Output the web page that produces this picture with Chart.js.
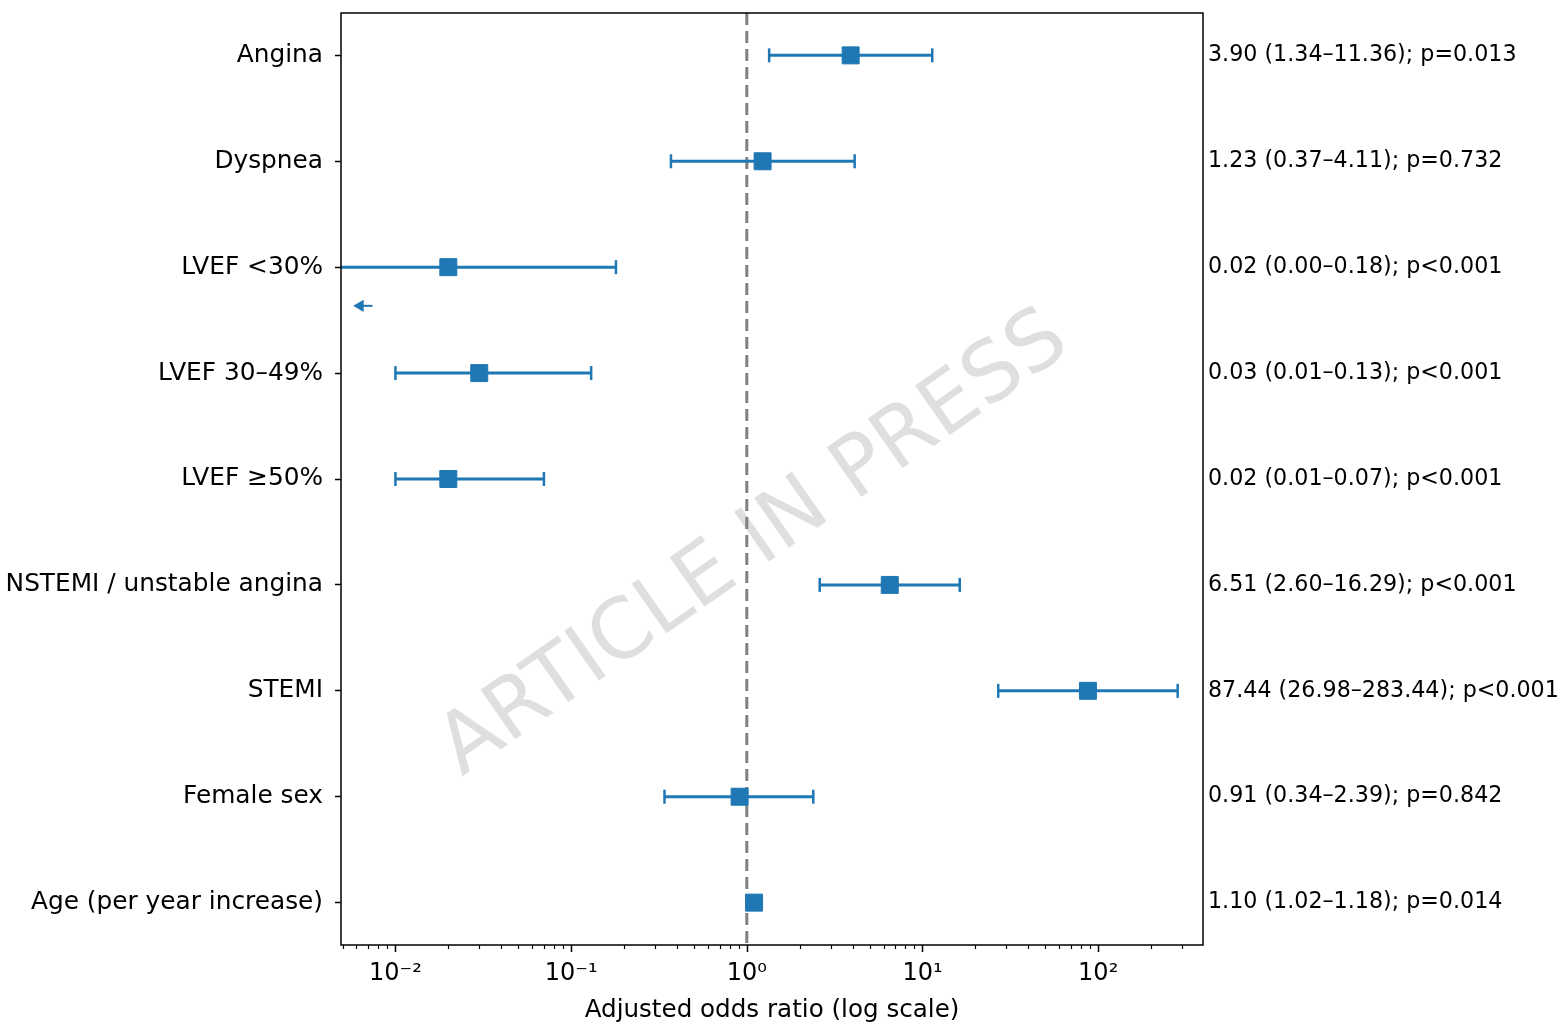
<!DOCTYPE html>
<html>
<head>
<meta charset="utf-8">
<script src="https://cdn.jsdelivr.net/npm/chart.js@4/dist/chart.umd.min.js"></script>
<style>
  body { margin: 0; background: #fff; }
  canvas { display: block; }
</style>
</head>
<body>
<canvas id="chart" width="1565" height="1028"></canvas>
<script>
// rows, top to bottom
const labels = ["Angina", "Dyspnea", "LVEF <30%", "LVEF 30–49%", "LVEF ≥50%",
  "NSTEMI / unstable angina", "STEMI", "Female sex", "Age (per year increase)"];
const oddsRatio = [3.90, 1.23, 0.02, 0.03, 0.02, 6.51, 87.44, 0.91, 1.10];
const ciLow = [1.34, 0.37, 0.001, 0.01, 0.01, 2.60, 26.98, 0.34, 1.02]; // 0.00 shown, below axis
const ciHigh = [11.36, 4.11, 0.18, 0.13, 0.07, 16.29, 283.44, 2.39, 1.18];
const statTexts = [
  "3.90 (1.34–11.36); p=0.013",
  "1.23 (0.37–4.11); p=0.732",
  "0.02 (0.00–0.18); p<0.001",
  "0.03 (0.01–0.13); p<0.001",
  "0.02 (0.01–0.07); p<0.001",
  "6.51 (2.60–16.29); p<0.001",
  "87.44 (26.98–283.44); p<0.001",
  "0.91 (0.34–2.39); p=0.842",
  "1.10 (1.02–1.18); p=0.014"
];
const xTicks = [0.01, 0.1, 1, 10, 100];
const xTickLabels = ["10⁻²", "10⁻¹", "10⁰", "10¹", "10²"];
const xMin = 0.0049, xMax = 395;
// little arrow under LVEF <30% (CI runs off the axis)
const arrowX = [0.0074, 0.0063];
const arrowY = 2.365;

const blue = "#1f77b4";
const font = "DejaVu Sans";
Chart.defaults.font.family = font;
Chart.defaults.color = "#000";

const rowTicks = s => { s.ticks = labels.map((_, i) => ({ value: i })); };

const datasets = [{
  data: oddsRatio.map((v, i) => ({ x: v, y: i })),
  pointStyle: "rect", pointRadius: 12, pointBorderWidth: 1,
  backgroundColor: blue, borderColor: blue, showLine: false, order: 0
}];
labels.forEach((_, i) => {
  datasets.push({
    data: [{ x: ciLow[i], y: i }, { x: ciHigh[i], y: i }],
    showLine: true, borderColor: blue, borderWidth: 3,
    pointStyle: "line", rotation: 90, pointRadius: 7, pointBorderWidth: 2.5,
    pointBorderColor: blue, order: 1
  });
});
datasets.push({
  data: [{ x: 1, y: -0.4 }, { x: 1, y: 8.4 }],
  showLine: true, borderColor: "#808080", borderWidth: 3, borderDash: [12, 6],
  pointRadius: 0, order: 2
});
datasets.push({
  data: arrowX.map(x => ({ x: x, y: arrowY })),
  showLine: true, borderColor: blue, borderWidth: 2,
  pointRadius: [0, 7], pointStyle: "triangle", rotation: -90,
  backgroundColor: blue, pointBorderColor: blue, pointBorderWidth: 0, order: 1
});

const watermark = {
  id: "watermark",
  beforeDatasetsDraw(chart) {
    const { ctx, chartArea: a } = chart;
    ctx.save();
    ctx.translate(a.left + 0.48 * (a.right - a.left), a.top + 0.571 * (a.bottom - a.top));
    ctx.rotate(-35 * Math.PI / 180);
    ctx.font = "83px " + font;
    ctx.fillStyle = "rgba(128,128,128,0.25)";
    ctx.textAlign = "center";
    ctx.textBaseline = "middle";
    ctx.fillText("ARTICLE IN PRESS", 0, 0);
    ctx.restore();
  }
};

const frame = {
  id: "frame",
  afterDraw(chart) {
    const { ctx, chartArea: a } = chart;
    const x = chart.scales.x;
    ctx.save();
    ctx.strokeStyle = "#000";
    // x ticks, majors and minors
    for (let d = -3; d <= 2; d++) {
      for (let m = 1; m <= 9; m++) {
        const v = m * Math.pow(10, d);
        if (v < xMin || v > xMax) continue;
        const px = Math.round(x.getPixelForValue(v)) + 0.5;
        ctx.lineWidth = m === 1 ? 1.5 : 1.2;
        ctx.beginPath();
        ctx.moveTo(px, a.bottom);
        ctx.lineTo(px, a.bottom + (m === 1 ? 7 : 4));
        ctx.stroke();
      }
    }
    ctx.lineWidth = 1.5;
    ctx.strokeRect(a.left, a.top, a.right - a.left, a.bottom - a.top);
    ctx.restore();
  }
};

const noPad = s => { s.paddingTop = 0; s.paddingBottom = 0; s.paddingLeft = 0; s.paddingRight = 0; };

new Chart(document.getElementById("chart"), {
  type: "scatter",
  data: { datasets },
  plugins: [watermark, frame],
  options: {
    responsive: false,
    animation: false,
    devicePixelRatio: 1,
    layout: { padding: { top: 13, left: 0, right: 0, bottom: 0 } },
    plugins: { legend: { display: false }, tooltip: { enabled: false } },
    scales: {
      x: {
        type: "logarithmic", position: "bottom", min: xMin, max: xMax,
        afterBuildTicks: s => { s.ticks = xTicks.map(v => ({ value: v, major: true })); },
        afterFit: s => { s.height = 83; noPad(s); },
        grid: { display: false, drawTicks: true, tickLength: 7 },
        border: { display: false },
        ticks: {
          autoSkip: false, maxRotation: 0, padding: 7,
          font: { size: 24 },
          callback: (v) => { const i = xTicks.indexOf(v); return i >= 0 ? xTickLabels[i] : ""; }
        },
        title: {
          display: true, text: "Adjusted odds ratio (log scale)",
          font: { size: 24.6 }, padding: { top: 0, bottom: 3 }
        }
      },
      y: {
        type: "linear", position: "left", min: -0.4, max: 8.4, reverse: true,
        afterBuildTicks: rowTicks,
        afterFit: s => { s.width = 341; noPad(s); },
        grid: { drawOnChartArea: false, tickLength: 6, color: "#000", tickWidth: 1.5 },
        border: { display: false },
        ticks: { autoSkip: false, padding: 12, font: { size: 24.8 }, callback: v => labels[v] }
      },
      y2: {
        type: "linear", position: "right", min: -0.4, max: 8.4, reverse: true,
        afterBuildTicks: rowTicks,
        afterFit: s => { s.width = 362; noPad(s); },
        grid: { display: false, drawTicks: false },
        border: { display: false },
        ticks: { autoSkip: false, padding: 5, font: { size: 22.2 }, callback: v => statTexts[v] }
      }
    }
  }
});
</script>
</body>
</html>
